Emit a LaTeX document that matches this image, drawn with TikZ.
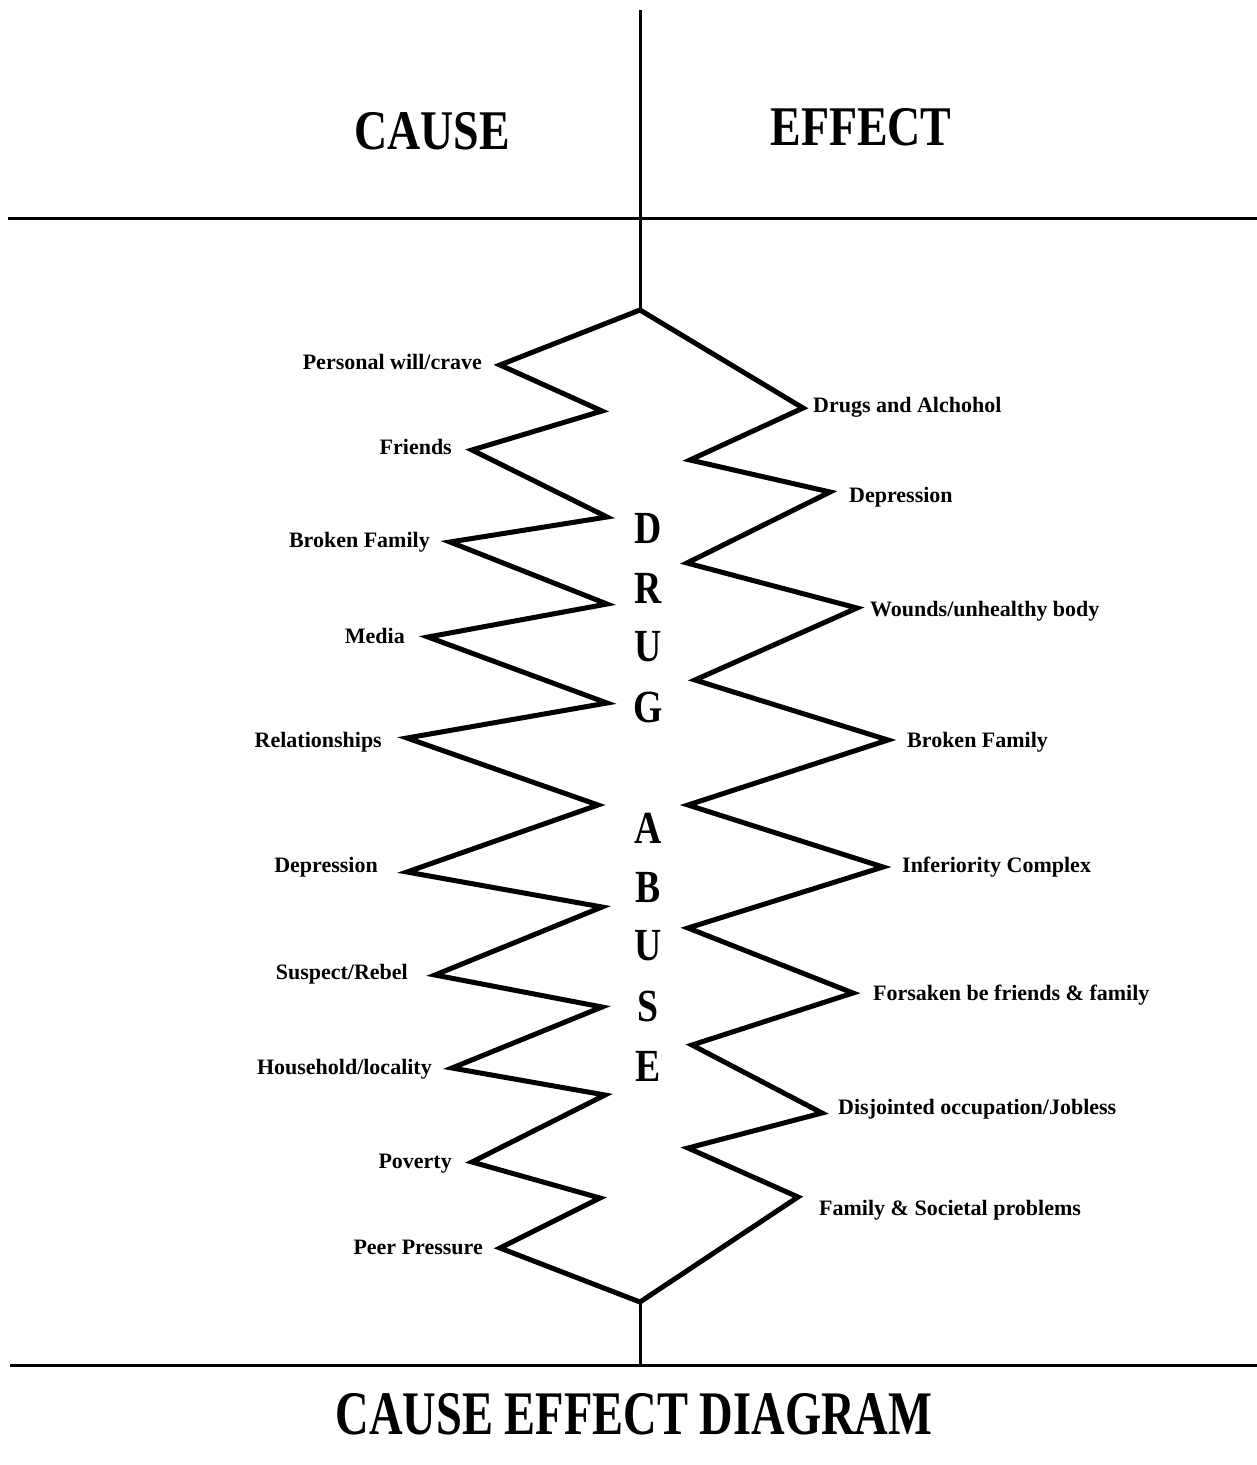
\documentclass[tikz,border=0pt]{standalone}
\usepackage{fontspec}
\setmainfont{Liberation Serif}
\newfontfamily\condfont[FakeStretch=0.82]{Liberation Serif}
\newfontfamily\narrowfont[FakeStretch=0.75]{Liberation Serif}
\begin{document}
\begin{tikzpicture}[x=1pt,y=-1pt,
  thinline/.style={line width=3pt},
  zig/.style={line width=5pt, line join=miter, miter limit=20},
  lab/.style={font=\fontsize{22}{26}\selectfont\bfseries, inner sep=0pt},
  leftlab/.style={lab, anchor=base east},
  rightlab/.style={lab, anchor=base west},
  head/.style={font=\condfont\bfseries\fontsize{56}{60}\selectfont, inner sep=0pt},
  bighead/.style={font=\narrowfont\bfseries\fontsize{62}{66}\selectfont, inner sep=0pt},
  letter/.style={font=\condfont\bfseries\fontsize{46}{50}\selectfont, inner sep=0pt}]
\useasboundingbox (0,0) rectangle (1257,1465);
\fill[white] (0,0) rectangle (1257,1465);

% frame lines
\coordinate (vtop) at (640,10);
\coordinate (vbot) at (640,1365);
\coordinate (h1l) at (8,218);
\coordinate (h1r) at (1257,218);
\coordinate (h2l) at (10,1365);
\coordinate (h2r) at (1257,1365);

% zigzag vertices
\coordinate (top) at (640,310);
\coordinate (bot) at (640,1302);
\coordinate (L1) at (500,365);  \coordinate (I1) at (602,411);
\coordinate (L2) at (472,450);  \coordinate (I2) at (607,517);
\coordinate (L3) at (450,542);  \coordinate (I3) at (607,604);
\coordinate (L4) at (428,637);  \coordinate (I4) at (607,703);
\coordinate (L5) at (407,738);  \coordinate (I5) at (598,805);
\coordinate (L6) at (407,872);  \coordinate (I6) at (602,907);
\coordinate (L7) at (435,975);  \coordinate (I7) at (602,1007);
\coordinate (L8) at (452,1068); \coordinate (I8) at (605,1095);
\coordinate (L9) at (472,1162); \coordinate (I9) at (600,1198);
\coordinate (L10) at (500,1248);

\coordinate (R1) at (803,408);  \coordinate (J1) at (690,460);
\coordinate (R2) at (830,492);  \coordinate (J2) at (687,563);
\coordinate (R3) at (857,608);  \coordinate (J3) at (695,680);
\coordinate (R4) at (888,740);  \coordinate (J4) at (688,805);
\coordinate (R5) at (883,867);  \coordinate (J5) at (688,928);
\coordinate (R6) at (853,993);  \coordinate (J6) at (692,1045);
\coordinate (R7) at (822,1113); \coordinate (J7) at (688,1148);
\coordinate (R8) at (798,1197);

\draw[thinline] (h1l) -- (h1r);
\draw[thinline] (h2l) -- (h2r);
\draw[thinline] (vtop) -- (top);
\draw[thinline] (bot) -- (vbot);

\draw[zig] (top) -- (L1) -- (I1) -- (L2) -- (I2) -- (L3) -- (I3) -- (L4) -- (I4)
  -- (L5) -- (I5) -- (L6) -- (I6) -- (L7) -- (I7) -- (L8) -- (I8) -- (L9) -- (I9)
  -- (L10) -- (bot);
\draw[zig] (top) -- (R1) -- (J1) -- (R2) -- (J2) -- (R3) -- (J3) -- (R4) -- (J4)
  -- (R5) -- (J5) -- (R6) -- (J6) -- (R7) -- (J7) -- (R8) -- (bot);

% headings
\node[head] (cause) at (432,131) {CAUSE};
\node[head] (effect) at (861,127) {EFFECT};
\node[bighead] (title) at (634,1414) {CAUSE EFFECT DIAGRAM};

% vertical letters
\node[letter] (d1) at (648,528) {D};
\node[letter] (d2) at (648,588) {R};
\node[letter] (d3) at (648,647) {U};
\node[letter] (d4) at (648,707) {G};
\node[letter] (a1) at (648,828) {A};
\node[letter] (a2) at (648,887) {B};
\node[letter] (a3) at (648,946) {U};
\node[letter] (a4) at (648,1006) {S};
\node[letter] (a5) at (648,1066) {E};

% cause labels
\node[leftlab] (c1) at (482,369) {Personal will/crave};
\node[leftlab] (c2) at (452,454) {Friends};
\node[leftlab] (c3) at (430,547) {Broken Family};
\node[leftlab] (c4) at (405,643) {Media};
\node[leftlab] (c5) at (382,747) {Relationships};
\node[leftlab] (c6) at (378,872) {Depression};
\node[leftlab] (c7) at (408,979) {Suspect/Rebel};
\node[leftlab] (c8) at (432,1074) {Household/locality};
\node[leftlab] (c9) at (452,1168) {Poverty};
\node[leftlab] (c10) at (483,1254) {Peer Pressure};

% effect labels
\node[rightlab] (e1) at (813,412) {Drugs and Alchohol};
\node[rightlab] (e2) at (849,502) {Depression};
\node[rightlab] (e3) at (870,616) {Wounds/unhealthy body};
\node[rightlab] (e4) at (907,747) {Broken Family};
\node[rightlab] (e5) at (902,872) {Inferiority Complex};
\node[rightlab] (e6) at (873,1000) {Forsaken be friends \& family};
\node[rightlab] (e7) at (838,1114) {Disjointed occupation/Jobless};
\node[rightlab] (e8) at (819,1215) {Family \& Societal problems};
\end{tikzpicture}
\end{document}
